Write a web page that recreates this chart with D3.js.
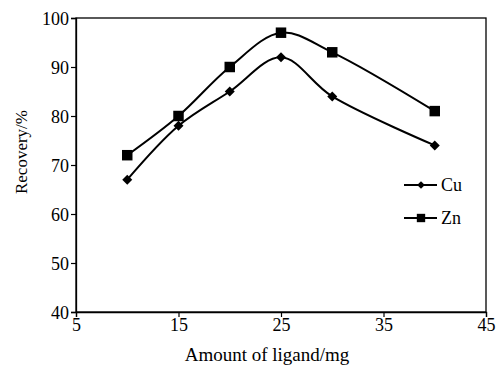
<!DOCTYPE html>
<html>
<head>
<meta charset="utf-8">
<script src="https://cdn.jsdelivr.net/npm/d3@7"></script>
<style>
  body { margin: 0; background: #fff; }
  svg text { font-family: "Liberation Serif", "Times New Roman", serif; fill: #000; }
</style>
</head>
<body>
<div id="chart"></div>
<script>
// data
const ligandAmount = [10, 15, 20, 25, 30, 40];
const cuRecovery = [67, 78, 85, 92, 84, 74];
const znRecovery = [72, 80, 90, 97, 93, 81];
const xTicks = [5, 15, 25, 35, 45];
const yTicks = [40, 50, 60, 70, 80, 90, 100];

const W = 497, H = 365;
const margin = { top: 18, right: 11, bottom: 53, left: 76 };
const width = W - margin.left - margin.right;
const height = H - margin.top - margin.bottom;

const svg = d3.select('#chart').append('svg')
  .attr('width', W)
  .attr('height', H);

const g = svg.append('g')
  .attr('transform', `translate(${margin.left},${margin.top})`);

const x = d3.scaleLinear().domain([5, 45]).range([0, width]);
const y = d3.scaleLinear().domain([40, 100]).range([height, 0]);

// frame
g.append('rect')
  .attr('width', width).attr('height', height)
  .attr('fill', 'none').attr('stroke', '#000').attr('stroke-width', 1.3);

// axes
const xAxis = g.append('g')
  .attr('transform', `translate(0,${height})`)
  .call(d3.axisBottom(x).tickValues(xTicks).tickSize(5).tickPadding(1).tickFormat(d3.format('d')));
const yAxis = g.append('g')
  .call(d3.axisLeft(y).tickValues(yTicks).tickSize(5).tickPadding(2).tickFormat(d3.format('d')));

[xAxis, yAxis].forEach(a => {
  a.attr('font-family', null);
  a.select('.domain').attr('stroke', '#000').attr('stroke-width', 1.3);
  a.selectAll('.tick line').attr('stroke', '#000').attr('stroke-width', 1.2);
  a.selectAll('.tick text')
    .style('font-family', '"Liberation Serif", serif')
    .style('font-size', '18px').attr('fill', '#000');
});
yAxis.selectAll('.tick text').attr('dy', '0.34em');

// axis titles
svg.append('text')
  .attr('x', 267)
  .attr('y', H - 4)
  .attr('text-anchor', 'middle')
  .style('font-size', '19px')
  .text('Amount of ligand/mg');

svg.append('text')
  .attr('transform', `translate(27,152) rotate(-90)`)
  .attr('text-anchor', 'middle')
  .style('font-size', '17px')
  .text('Recovery/%');

const series = [
  { name: 'Cu', values: cuRecovery, symbol: d3.symbolSquare, size: 50, rotate: 45 },
  { name: 'Zn', values: znRecovery, symbol: d3.symbolSquare, size: 110, rotate: 0 }
];

const line = d3.line()
  .x(d => x(d[0]))
  .y(d => y(d[1]))
  .curve(d3.curveCatmullRom.alpha(0.5));

series.forEach(s => {
  const pts = ligandAmount.map((a, i) => [a, s.values[i]]);
  g.append('path')
    .datum(pts)
    .attr('fill', 'none')
    .attr('stroke', '#000')
    .attr('stroke-width', 2)
    .attr('d', line);
  g.selectAll(null)
    .data(pts)
    .enter()
    .append('path')
    .attr('transform', d => `translate(${x(d[0])},${y(d[1])}) rotate(${s.rotate})`)
    .attr('d', d3.symbol().type(s.symbol).size(s.size))
    .attr('fill', '#000');
});

// legend
const legend = svg.append('g').attr('transform', 'translate(404,185)');
series.forEach((s, i) => {
  const row = legend.append('g').attr('transform', `translate(0,${i * 33})`);
  row.append('line')
    .attr('x1', 0).attr('x2', 33)
    .attr('stroke', '#000').attr('stroke-width', 2);
  row.append('path')
    .attr('transform', `translate(17,0) rotate(${s.rotate})`)
    .attr('d', d3.symbol().type(s.symbol).size(s.name === 'Cu' ? 30 : 70))
    .attr('fill', '#000');
  row.append('text')
    .attr('x', 37).attr('y', 6)
    .style('font-size', '18px')
    .text(s.name);
});
</script>
</body>
</html>
